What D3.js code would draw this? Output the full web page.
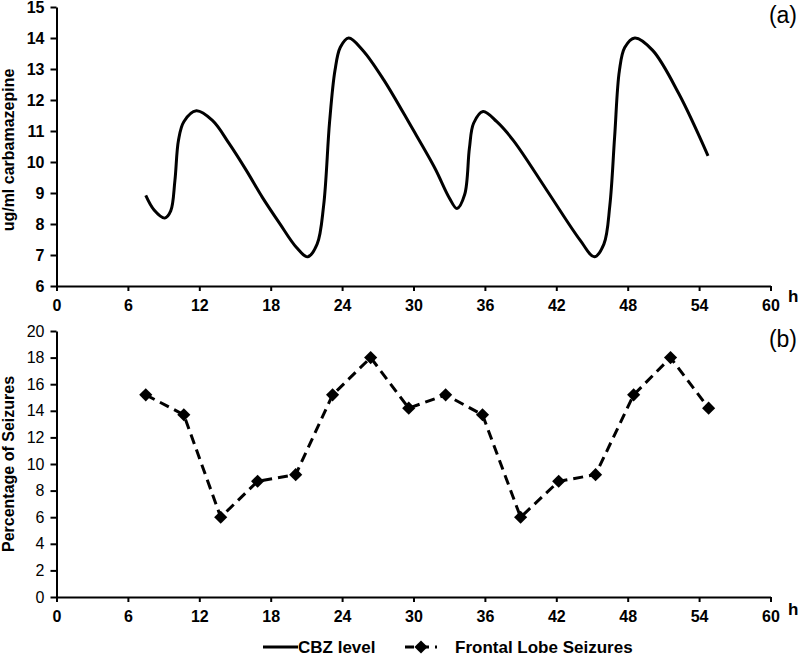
<!DOCTYPE html>
<html>
<head>
<meta charset="utf-8">
<script src="https://cdn.jsdelivr.net/npm/d3@7"></script>
<style>
  body { margin: 0; background: #fff; }
  svg { display: block; font-family: "Liberation Sans", Arial, sans-serif; }
</style>
</head>
<body>
<svg width="799" height="656"></svg>
<script>
// CBZ level curve (hours, ug/ml)
var cbzHours = [7.5, 8.2, 9.1, 9.6, 9.95, 10.25, 10.7, 11.75, 13.1, 14.5, 15.95, 17.3, 18.75, 20.15, 21.1, 21.9, 22.45, 22.95, 23.4, 23.85, 24.55, 25.75, 27.5, 29.8, 31.8, 33.0, 33.65, 34.3, 34.7, 35.05, 35.85, 37.0, 38.4, 41.2, 44.0, 45.2, 46.0, 46.5, 46.9, 47.3, 47.75, 48.6, 50.1, 52.3, 54.75];
var cbzLevel = [8.92, 8.45, 8.19, 8.42, 9.4, 10.7, 11.3, 11.65, 11.34, 10.6, 9.73, 8.86, 8.02, 7.25, 6.94, 7.35, 8.6, 11.3, 12.95, 13.7, 14.0, 13.6, 12.65, 11.15, 9.8, 8.85, 8.5, 8.95, 10.45, 11.25, 11.63, 11.3, 10.69, 9.09, 7.48, 6.94, 7.35, 8.6, 10.8, 12.94, 13.69, 14.0, 13.6, 12.2, 10.2];

// Frontal lobe seizures (hours, %)
var seizureHours = [7.5, 10.7, 13.8, 16.9, 20.1, 23.2, 26.4, 29.6, 32.7, 35.8, 39.0, 42.2, 45.3, 48.5, 51.6, 54.8];
var seizurePct = [15.2, 13.7, 6.0, 8.7, 9.2, 15.2, 18.0, 14.2, 15.2, 13.7, 6.0, 8.7, 9.2, 15.2, 18.0, 14.2];

var hourTicks = [0, 6, 12, 18, 24, 30, 36, 42, 48, 54, 60];
var cbzTicks = [6, 7, 8, 9, 10, 11, 12, 13, 14, 15];
var pctTicks = [0, 2, 4, 6, 8, 10, 12, 14, 16, 18, 20];

var svg = d3.select("svg");

var x = d3.scaleLinear().domain([0, 60]).range([56.5, 770.5]);
var yTop = d3.scaleLinear().domain([6, 15]).range([286, 7]);
var yBot = d3.scaleLinear().domain([0, 20]).range([597, 331]);

function styleAxis(g, size, weight) {
    g.select(".domain").attr("stroke", "#000").attr("stroke-width", 2);
    g.selectAll(".tick line").attr("stroke", "#000").attr("stroke-width", 2);
    g.selectAll(".tick text")
        .attr("fill", "#000")
        .style("font-size", size + "px")
        .style("font-weight", weight)
        .style("font-family", "'Liberation Sans', Arial, sans-serif");
}

// ---- panel (a)
svg.append("g")
    .attr("transform", "translate(0," + yTop(6) + ")")
    .call(d3.axisBottom(x).tickValues(hourTicks).tickSize(5).tickSizeOuter(0).tickPadding(9))
    .call(styleAxis, 16, "bold");

svg.append("g")
    .attr("transform", "translate(" + x(0) + ",0)")
    .call(d3.axisLeft(yTop).tickValues(cbzTicks).tickSize(6).tickSizeOuter(0).tickPadding(6))
    .call(styleAxis, 16, "bold");

var cbzData = cbzHours.map(function(h, i) { return {h: h, v: cbzLevel[i]}; });

svg.append("path")
    .datum(cbzData)
    .attr("fill", "none")
    .attr("stroke", "#000")
    .attr("stroke-width", 3)
    .attr("d", d3.line()
        .x(function(d) { return x(d.h); })
        .y(function(d) { return yTop(d.v); })
        .curve(d3.curveCatmullRom.alpha(0.5)));

// ---- panel (b)
svg.append("g")
    .attr("transform", "translate(0," + yBot(0) + ")")
    .call(d3.axisBottom(x).tickValues(hourTicks).tickSize(5).tickSizeOuter(0).tickPadding(9))
    .call(styleAxis, 16, "bold");

svg.append("g")
    .attr("transform", "translate(" + x(0) + ",0)")
    .call(d3.axisLeft(yBot).tickValues(pctTicks).tickSize(6).tickSizeOuter(0).tickPadding(6))
    .call(styleAxis, 16, "normal");

var seizureData = seizureHours.map(function(h, i) { return {h: h, v: seizurePct[i]}; });

svg.append("path")
    .datum(seizureData)
    .attr("fill", "none")
    .attr("stroke", "#000")
    .attr("stroke-width", 3)
    .attr("stroke-dasharray", "10,6")
    .attr("d", d3.line()
        .x(function(d) { return x(d.h); })
        .y(function(d) { return yBot(d.v); }));

var diamond = d3.symbol().type(d3.symbolDiamond2).size(110);

svg.append("g")
    .selectAll("path")
    .data(seizureData)
    .enter().append("path")
    .attr("transform", function(d) { return "translate(" + x(d.h) + "," + yBot(d.v) + ")"; })
    .attr("d", diamond)
    .attr("fill", "#000");

// axis labels
svg.append("text")
    .attr("transform", "translate(14,150) rotate(-90)")
    .attr("text-anchor", "middle")
    .style("font-size", "16px")
    .style("font-weight", "bold")
    .text("ug/ml carbamazepine");

svg.append("text")
    .attr("transform", "translate(14,464) rotate(-90)")
    .attr("text-anchor", "middle")
    .style("font-size", "16px")
    .style("font-weight", "bold")
    .text("Percentage of Seizures");

svg.append("text")
    .attr("x", 788).attr("y", 302)
    .style("font-size", "17px")
    .style("font-weight", "bold")
    .text("h");

svg.append("text")
    .attr("x", 788).attr("y", 615)
    .style("font-size", "17px")
    .style("font-weight", "bold")
    .text("h");

// panel tags
svg.append("text")
    .attr("x", 797).attr("y", 23)
    .attr("text-anchor", "end")
    .style("font-size", "23px")
    .text("(a)");

svg.append("text")
    .attr("x", 797).attr("y", 347)
    .attr("text-anchor", "end")
    .style("font-size", "23px")
    .text("(b)");

// legend
var legend = svg.append("g").attr("transform", "translate(0,647)");

legend.append("line")
    .attr("x1", 263).attr("x2", 298)
    .attr("stroke", "#000")
    .attr("stroke-width", 3);

legend.append("text")
    .attr("x", 298).attr("y", 6)
    .style("font-size", "17px")
    .style("font-weight", "bold")
    .text("CBZ level");

legend.append("line")
    .attr("x1", 405).attr("x2", 437)
    .attr("stroke", "#000")
    .attr("stroke-width", 3)
    .attr("stroke-dasharray", "9,6");

legend.append("path")
    .attr("transform", "translate(421,0)")
    .attr("d", diamond)
    .attr("fill", "#000");

legend.append("text")
    .attr("x", 455).attr("y", 6)
    .style("font-size", "17px")
    .style("font-weight", "bold")
    .text("Frontal Lobe Seizures");
</script>
</body>
</html>
